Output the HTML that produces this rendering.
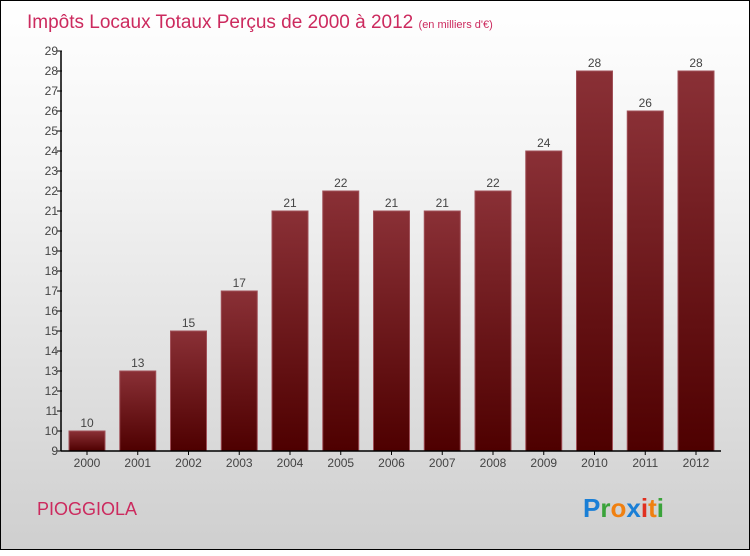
<!DOCTYPE html>
<html><head><meta charset="utf-8"><style>
body{margin:0;width:750px;height:550px;overflow:hidden}
#c{position:absolute;left:0;top:0;width:748px;height:548px;border:1px solid #000;background:linear-gradient(#ffffff,#f4f4f4 30%,#cfcfcf)}
text{font-family:"Liberation Sans",sans-serif}
</style></head><body>
<div id="c">
<svg id="s" width="750" height="550">
<defs><linearGradient id="g" x1="0" y1="0" x2="0" y2="1"><stop offset="0" stop-color="#8a3036"/><stop offset="1" stop-color="#4e0000"/></linearGradient></defs>
<text x="26" y="27" font-size="19" fill="#cc2a5e">Impôts Locaux Totaux Perçus de 2000 à 2012 <tspan font-size="11">(en milliers d'€)</tspan></text>
<text x="36" y="514" font-size="18" fill="#cc2a5e">PIOGGIOLA</text>
<g font-size="26" font-weight="bold">
<text x="582" y="516"><tspan fill="#1a7fd6">P</tspan><tspan fill="#3aa33a">r</tspan><tspan fill="#f08010">o</tspan><tspan fill="#1a7fd6">x</tspan><tspan fill="#e03020">i</tspan><tspan fill="#f08010">t</tspan><tspan fill="#3aa33a">i</tspan></text></g>
<g id="bars"></g><g id="axes"></g>
</svg></div>
<script>
const years=["2000","2001","2002","2003","2004","2005","2006","2007","2008","2009","2010","2011","2012"];
const values=[10,13,15,17,21,22,21,21,22,24,28,26,28];
const yTicks=[9,10,11,12,13,14,15,16,17,18,19,20,21,22,23,24,25,26,27,28,29];
const NS="http://www.w3.org/2000/svg";
const yMin=9,yMax=29,pTop=50,pBot=450,pLeft=60,pRight=720;
const yS=v=>pBot-(v-yMin)/(yMax-yMin)*(pBot-pTop);
const step=50.75;
const xc=i=>86+i*step;
function mk(t,a,p){const e=document.createElementNS(NS,t);for(const k in a)e.setAttribute(k,a[k]);p.appendChild(e);return e;}
const B=document.getElementById('bars'),A=document.getElementById('axes');
values.forEach((v,i)=>{
const r=mk('rect',{x:xc(i)-18,y:yS(v),width:36,height:pBot-yS(v),fill:'url(#g)',stroke:'#a05058','stroke-width':1},B);


const t=mk('text',{x:xc(i),y:yS(v)-4,'text-anchor':'middle','font-size':12,fill:'#444'},B);t.textContent=v;


const xl=mk('text',{x:xc(i),y:pBot+16,'text-anchor':'middle','font-size':12,fill:'#444'},A);xl.textContent=years[i];


mk('line',{x1:xc(i),x2:xc(i),y1:pBot,y2:pBot+4,stroke:'#000'},A);
});
const ya=mk('line',{x1:pLeft,x2:pLeft,y1:pTop,y2:pBot,stroke:'#000','stroke-width':1.5},A);


const xa=mk('line',{x1:pLeft,x2:pRight,y1:pBot,y2:pBot,stroke:'#000','stroke-width':1.5},A);


yTicks.forEach(v=>{
mk('line',{x1:pLeft-4,x2:pLeft+1,y1:yS(v),y2:yS(v),stroke:'#000'},A);
const t=mk('text',{x:pLeft-3,y:yS(v)+4,'text-anchor':'end','font-size':12,fill:'#444'},A);t.textContent=v;


});
</script>
</body></html>
